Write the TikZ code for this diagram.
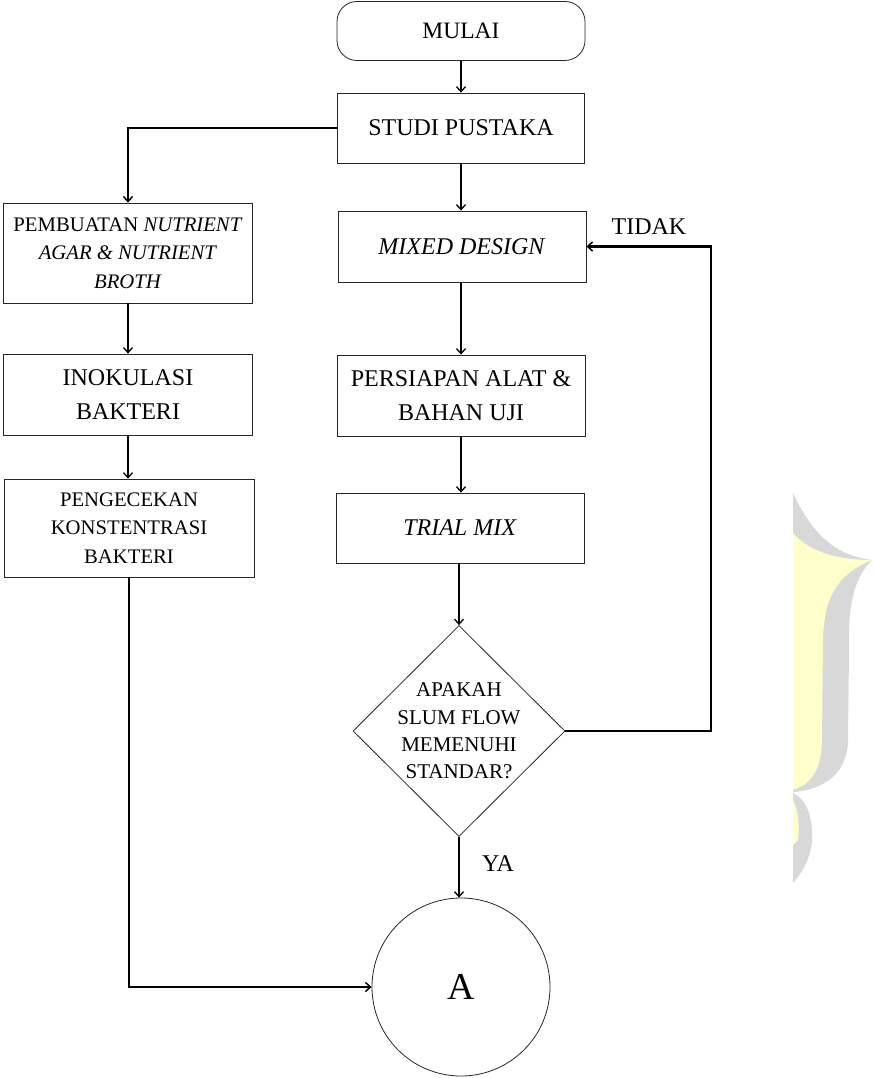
\documentclass[tikz,border=0pt]{standalone}
\usepackage{fontspec}
\setmainfont{Liberation Serif}
\usetikzlibrary{shapes.geometric,arrows.meta}
\definecolor{wmgray}{RGB}{216,216,216}
\definecolor{wmyellow}{RGB}{255,255,204}
\tikzset{
  box/.style={draw=black!85,line width=0.8pt,rectangle,align=center,inner sep=2pt},
  big/.style={font=\fontsize{24}{34}\selectfont},
  small/.style={font=\fontsize{20.7}{28.5}\selectfont},
  flow/.style={line width=1.6pt,-{Straight Barb[length=5pt,width=9pt,line width=1.3pt]}},
  heavy/.style={line width=2.4pt,-{Straight Barb[length=5pt,width=9pt,line width=1.5pt]}},
  lab/.style={font=\fontsize{24}{28}\selectfont,inner sep=0pt}
}
\begin{document}
\begin{tikzpicture}[x=1pt,y=-1pt]
\useasboundingbox (0,0) rectangle (873,1078);
% watermark
\fill[wmgray] (793,493) .. controls (815,540) and (840,556) .. (872,560)
  .. controls (852,580) and (848,610) .. (849,650) -- (848,740)
  .. controls (848,772) and (825,790) .. (793,792) -- cycle;
\fill[wmyellow] (793,533) .. controls (810,553) and (840,560) .. (872,560)
  .. controls (835,575) and (824,600) .. (823,640) -- (822,740)
  .. controls (822,770) and (810,785) .. (793,790) -- cycle;
\fill[wmgray] (793,793) .. controls (808,800) and (813,820) .. (812,840)
  .. controls (811,860) and (800,875) .. (793,883) -- cycle;
\fill[wmyellow] (793,800) .. controls (798,810) and (800,825) .. (798,840)
  -- (793,845) -- cycle;
% nodes
\node[box,rounded corners=20pt,minimum width=248pt,minimum height=59pt,font=\fontsize{23.5}{26}\selectfont] (mulai) at (461,31) {MULAI};
\node[box,big,minimum width=247pt,minimum height=70pt] (studi) at (461,128) {STUDI PUSTAKA};
\node[box,small,minimum width=249pt,minimum height=100pt] (pemb) at (128,253) {PEMBUATAN \textit{NUTRIENT}\\\textit{AGAR \& NUTRIENT}\\\textit{BROTH}};
\node[box,big,minimum width=249pt,minimum height=81pt] (inok) at (128,394.5) {INOKULASI\\BAKTERI};
\node[box,small,minimum width=250pt,minimum height=98pt] (peng) at (129,528) {PENGECEKAN\\KONSTENTRASI\\BAKTERI};
\node[box,big,minimum width=248pt,minimum height=71pt] (mixed) at (462,246.5) {\textit{MIXED DESIGN}};
\node[box,big,minimum width=248pt,minimum height=81pt] (pers) at (461,395.5) {PERSIAPAN ALAT \&\\BAHAN UJI};
\node[box,big,minimum width=248pt,minimum height=70pt] (trial) at (460,528) {\textit{TRIAL MIX}};
\node[draw=black!85,line width=0.8pt,diamond,minimum width=212pt,minimum height=211pt,inner sep=0pt] (dec) at (459,731) {};
\node[align=center,font=\fontsize{21}{27.3}\selectfont,inner sep=0pt] (dectext) at (459,731) {APAKAH\\SLUM FLOW\\MEMENUHI\\STANDAR?};
\node[draw=black!85,line width=0.8pt,circle,minimum size=178pt,inner sep=0pt,font=\fontsize{38}{40}\selectfont] (circA) at (461,987) {A};
\node[lab] (tidak) at (649,227) {TIDAK};
\node[lab] (ya) at (498,864) {YA};
\coordinate (loop) at (711,731);
% connectors
\draw[flow] (mulai.south) -- (studi.north);
\draw[heavy] (studi.west) -| (pemb.north);
\draw[flow] (pemb.south) -- (inok.north);
\draw[flow] (inok.south) -- (peng.north -| inok.south);
\draw[heavy] (peng.south) |- (circA.west);
\draw[flow] (studi.south) -- (mixed.north -| studi.south);
\draw[flow] (mixed.south -| pers.north) -- (pers.north);
\draw[flow] (pers.south) -- (trial.north -| pers.south);
\draw[flow] (trial.south -| dec.north) -- (dec.north);
\draw[flow] (dec.south) -- (circA.north -| dec.south);
\draw[heavy] (dec.east) -- (loop) |- (mixed.east);
\end{tikzpicture}
\end{document}
